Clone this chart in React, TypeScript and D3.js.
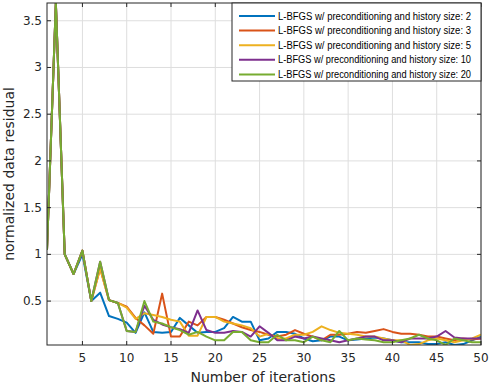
import React from "react";
import * as d3 from "d3";

const iterations = d3.range(1, 51);
const seriesNames = [
  "L-BFGS w/ preconditioning and history size: 2",
  "L-BFGS w/ preconditioning and history size: 3",
  "L-BFGS w/ preconditioning and history size: 5",
  "L-BFGS w/ preconditioning and history size: 10",
  "L-BFGS w/ preconditioning and history size: 20",
];
const colors = ["#0072BD", "#D95319", "#EDB120", "#7E2F8E", "#77AC30"];

const h2 = [1.05, 3.69, 1.0, 0.79, 1.0, 0.5, 0.59, 0.34, 0.31, 0.27, 0.16, 0.38, 0.17, 0.16, 0.17, 0.32, 0.24, 0.16, 0.17, 0.17, 0.21, 0.33, 0.28, 0.28, 0.08, 0.1, 0.17, 0.17, 0.15, 0.1, 0.07, 0.08, 0.12, 0.12, 0.08, 0.09, 0.1, 0.11, 0.1, 0.08, 0.06, 0.06, 0.06, 0.04, 0.04, 0.06, 0.03, 0.04, 0.08, 0.12];
const h3 = [1.05, 3.69, 1.0, 0.79, 1.04, 0.5, 0.85, 0.51, 0.48, 0.44, 0.32, 0.24, 0.15, 0.58, 0.12, 0.12, 0.28, 0.24, 0.33, 0.33, 0.3, 0.26, 0.22, 0.19, 0.17, 0.14, 0.12, 0.14, 0.19, 0.15, 0.12, 0.08, 0.14, 0.14, 0.15, 0.17, 0.16, 0.18, 0.2, 0.17, 0.15, 0.15, 0.14, 0.12, 0.12, 0.1, 0.08, 0.1, 0.09, 0.1];
const h5 = [1.05, 3.69, 1.0, 0.79, 1.04, 0.5, 0.85, 0.51, 0.48, 0.43, 0.31, 0.37, 0.35, 0.33, 0.3, 0.28, 0.13, 0.13, 0.33, 0.33, 0.28, 0.26, 0.24, 0.21, 0.12, 0.15, 0.1, 0.1, 0.14, 0.14, 0.17, 0.23, 0.19, 0.16, 0.15, 0.14, 0.12, 0.12, 0.1, 0.08, 0.08, 0.03, 0.04, 0.08, 0.1, 0.08, 0.06, 0.08, 0.1, 0.14];
const h10 = [1.05, 3.69, 1.0, 0.79, 1.04, 0.5, 0.92, 0.51, 0.48, 0.18, 0.17, 0.45, 0.3, 0.25, 0.22, 0.2, 0.16, 0.4, 0.19, 0.16, 0.16, 0.18, 0.17, 0.12, 0.23, 0.16, 0.08, 0.08, 0.12, 0.1, 0.12, 0.1, 0.08, 0.06, 0.08, 0.1, 0.12, 0.12, 0.08, 0.08, 0.06, 0.1, 0.1, 0.1, 0.12, 0.18, 0.11, 0.1, 0.1, 0.1];
const h20 = [1.05, 3.69, 1.0, 0.79, 1.04, 0.5, 0.92, 0.51, 0.48, 0.18, 0.17, 0.5, 0.28, 0.26, 0.22, 0.19, 0.14, 0.17, 0.12, 0.08, 0.08, 0.17, 0.17, 0.08, 0.06, 0.06, 0.14, 0.08, 0.08, 0.06, 0.12, 0.08, 0.06, 0.18, 0.08, 0.1, 0.09, 0.08, 0.06, 0.06, 0.08, 0.1, 0.14, 0.1, 0.08, 0.03, 0.1, 0.08, 0.06, 0.06];
const allSeries = [h2, h3, h5, h10, h20];

const xTicks = [5, 10, 15, 20, 25, 30, 35, 40, 45, 50];
const yTicks = [0.5, 1, 1.5, 2, 2.5, 3, 3.5];

const W = 490, H = 385;
const left = 47, right = 481, top = 3, bottom = 345;

export default function App() {
  const x = d3.scaleLinear().domain([1, 50]).range([left, right]);
  const y = d3.scaleLinear().domain([0.03, 3.69]).range([bottom, top]);
  const line = d3.line<number>().x((_, i) => x(iterations[i])).y((d) => y(d));
  const font = "'DejaVu Sans', sans-serif";
  const tickLen = 4;
  const lx = 232, ly = 3, lw = 249, lh = 78;
  return (
    <svg width={W} height={H} style={{ position: "absolute", left: 0, top: 0, background: "#fff" }} fontFamily={font}>
      <defs>
        <clipPath id="plotclip"><rect x={left} y={top} width={right - left} height={bottom - top} /></clipPath>
      </defs>
      <rect x={left} y={top} width={right - left} height={bottom - top} fill="#fff" />
      {xTicks.map((t) => (
        <line key={"gx" + t} x1={x(t)} x2={x(t)} y1={top} y2={bottom} stroke="#dedede" strokeWidth={1} />
      ))}
      {yTicks.map((t) => (
        <line key={"gy" + t} x1={left} x2={right} y1={y(t)} y2={y(t)} stroke="#dedede" strokeWidth={1} />
      ))}
      <g clipPath="url(#plotclip)">
        {allSeries.map((s, i) => (
          <path key={i} d={line(s) || ""} fill="none" stroke={colors[i]} strokeWidth={2} strokeLinejoin="round" />
        ))}
      </g>
      <rect x={left} y={top} width={right - left} height={bottom - top} fill="none" stroke="#262626" strokeWidth={1} />
      {xTicks.map((t) => (
        <g key={"tx" + t}>
          <line x1={x(t)} x2={x(t)} y1={bottom} y2={bottom - tickLen} stroke="#262626" />
          <line x1={x(t)} x2={x(t)} y1={top} y2={top + tickLen} stroke="#262626" />
          <text x={x(t)} y={bottom + 17} textAnchor="middle" fontSize={12} fill="#262626">{t}</text>
        </g>
      ))}
      {yTicks.map((t) => (
        <g key={"ty" + t}>
          <line x1={left} x2={left + tickLen} y1={y(t)} y2={y(t)} stroke="#262626" />
          <line x1={right} x2={right - tickLen} y1={y(t)} y2={y(t)} stroke="#262626" />
          <text x={left - 5} y={y(t) + 4} textAnchor="end" fontSize={12} fill="#262626">{t}</text>
        </g>
      ))}
      <text x={(left + right) / 2 - 1} y={382} textAnchor="middle" fontSize={14} fill="#262626">Number of iterations</text>
      <text transform={`translate(14,${(top + bottom) / 2}) rotate(-90)`} textAnchor="middle" fontSize={14} fill="#262626">normalized data residual</text>
      <rect x={lx} y={ly} width={lw} height={lh} fill="#fff" stroke="#262626" strokeWidth={1} />
      {seriesNames.map((n, i) => {
        const yy = ly + 13 + i * 14.6;
        return (
          <g key={n}>
            <line x1={lx + 7} x2={lx + 43} y1={yy} y2={yy} stroke={colors[i]} strokeWidth={2} />
            <text x={lx + 46} y={yy + 3.5} fontSize={10} fontFamily="'Liberation Sans', Arial, sans-serif" fill="#000" textLength={n.length > 46 ? 199 : 193} lengthAdjust="spacingAndGlyphs">{n}</text>
          </g>
        );
      })}
    </svg>
  );
}
